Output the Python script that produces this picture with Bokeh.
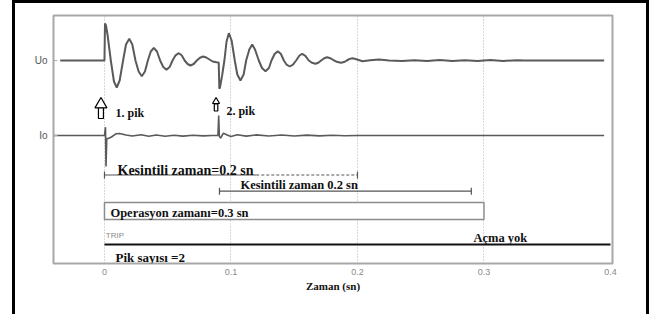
import numpy as np
from bokeh.plotting import figure
from bokeh.models import Range1d, FixedTicker
from bokeh.embed import file_html
from bokeh.resources import INLINE
from bokeh.core.properties import value

# ---------------- data ----------------
# Uo trace: time (s) and deflection from its baseline (px-like units, + = up)
uo_t = [-0.035, 0.0, 0.0004, 0.0012, 0.0025, 0.005, 0.0075, 0.0097, 0.012, 0.0147,
        0.017, 0.0196, 0.022, 0.0245, 0.027, 0.0295, 0.032, 0.0343, 0.0366, 0.039,
        0.0415, 0.044, 0.0465, 0.049, 0.0515, 0.0538, 0.0562, 0.0587, 0.061, 0.0634,
        0.0657, 0.068, 0.0705, 0.073, 0.0755, 0.078, 0.0805, 0.083, 0.0855, 0.0885,
        0.0903, 0.0908, 0.0913, 0.093, 0.0948, 0.0965, 0.0983, 0.1005, 0.103, 0.105,
        0.1075, 0.110, 0.112, 0.1145, 0.1168, 0.119, 0.122, 0.1245, 0.1273, 0.130,
        0.132, 0.1345, 0.137, 0.1395, 0.1418, 0.144, 0.1465, 0.149, 0.1515, 0.154,
        0.1563, 0.1588, 0.1615, 0.164, 0.1668, 0.169, 0.1713, 0.1737, 0.176, 0.1785,
        0.1815, 0.1843, 0.187, 0.1895, 0.1915, 0.1938, 0.196, 0.1985, 0.204, 0.21,
        0.217, 0.225, 0.235, 0.245, 0.255, 0.265, 0.275, 0.285, 0.295, 0.305,
        0.315, 0.326, 0.332, 0.395]
uo_v = [0, 0, 37, 35, 25, 0, -21, -27, -20, 0,
        16, 21.7, 16, 0, -11, -15.7, -11, 0, 9, 12.7,
        9, 0, -6.6, -9.3, -6.6, 0, 5.2, 7.3, 5.2, 0,
        -3.5, -5, -3.5, 0, 2.8, 4, 3, 1, -1, -1.7,
        -2, -28.3, -27, -15, 0, 19, 27.3, 20, 0, -14,
        -20, -14, 0, 11, 16, 11, 0, -7.5, -10.7, -7.5,
        0, 6.5, 9.3, 6.5, 0, -4.2, -6, -4.2, 0, 4.7,
        6.7, 4.7, 0, -2.3, -3.3, -2.3, 0, 2.3, 3.3, 2.3,
        0, -1.6, -2.3, -1.6, 0, 1.6, 2.3, 1.5, -0.7, 0.2,
        1, 0, -0.6, 0.3, -0.5, 0.4, -0.5, 0.3, -0.4, 0.4,
        -0.5, 0.3, 0, 0]

# Io trace
io_t = [-0.04, 0.0, 0.0008, 0.0012, 0.0018, 0.003, 0.0055, 0.009, 0.012, 0.017,
        0.022, 0.029, 0.035, 0.041, 0.048, 0.055, 0.062, 0.07, 0.078, 0.085,
        0.0897, 0.0903, 0.0908, 0.0918, 0.094, 0.097, 0.1, 0.105, 0.112, 0.12,
        0.13, 0.14, 0.15, 0.16, 0.17, 0.18, 0.19, 0.2, 0.395]
io_v = [0, 0, 8.3, -31, -3, -3, -1.5, 1.7, 2, 0.5,
        -0.5, 0.7, -0.8, 0.5, -0.7, 0.3, -0.6, 0.2, -0.4, 0,
        0, 20, -1, -2.5, 2.3, 0.5, -1, 0.7, -0.6, 0.6,
        -0.5, 0.5, -0.5, 0.4, -0.4, 0.3, -0.3, 0, 0]

x_ticks = [0, 0.1, 0.2, 0.3, 0.4]
x_tick_labels = ["0", "0.1", "0.2", "0.3", "0.4"]
grid_ticks = [0, 0.1, 0.2, 0.3]
channel_labels = ["Uo", "Io"]

peak_times = [0.0, 0.0905]
peak_labels = ["1. pik", "2. pik"]

interrupt1_start, interrupt1_end, interrupt1_solid_end = 0.0, 0.2, 0.12
interrupt1_label = "Kesintili zaman=0.2 sn"
interrupt2_start, interrupt2_end = 0.0909, 0.29
interrupt2_label = "Kesintili zaman 0.2 sn"
operation_start, operation_end = 0.0, 0.3
operation_label = "Operasyon zamanı=0.3 sn"
trip_start, trip_end = 0.0, 0.4
trip_label = "TRIP"
no_trip_label = "Açma yok"
peak_count_label = "Pik sayısı =2"
x_label = "Zaman (sn)"

# ---------------- layout (vertical rows, px-like units) ----------------
UO_Y, IO_Y = 203, 128
K1_Y, K2_Y = 88.5, 72.3
OP_BOTTOM, OP_TOP = 44, 61
TRIP_Y = 19
TXT = 3.5   # baseline correction for bold labels

SERIF = value("Liberation Serif")
SANS = value("Liberation Sans")

p = figure(width=637, height=314, output_backend="svg", toolbar_location=None,
           x_range=Range1d(-0.0403, 0.4016), y_range=Range1d(0, 248),
           min_border_left=38, min_border_right=40, min_border_top=12,
           min_border_bottom=54)
p.styles = {"margin-top": "0px", "margin-left": "12px",
            "border-top": "3px solid black", "border-left": "3px solid black",
            "border-right": "3px solid black"}
p.background_fill_color = "white"
p.border_fill_color = "white"
p.outline_line_color = "#a8a8a8"
p.outline_line_width = 2

# grid
p.ygrid.grid_line_color = None
p.xgrid.ticker = FixedTicker(ticks=grid_ticks)
p.xgrid.grid_line_color = "#b0b0b0"
p.xgrid.grid_line_dash = "1 2"
p.xgrid.grid_line_width = 1

# x axis
xa = p.xaxis[0]
xa.ticker = FixedTicker(ticks=x_ticks)
xa.major_label_overrides = {t: l for t, l in zip(x_ticks, x_tick_labels)}
xa.axis_line_color = None
xa.major_tick_line_color = None
xa.major_tick_in = 0
xa.major_tick_out = 0
xa.minor_tick_line_color = None
xa.minor_tick_out = 0
xa.major_label_text_color = "#8a8a8a"
xa.major_label_text_font = "Liberation Sans"
xa.major_label_text_font_size = "9px"
xa.major_label_standoff = 5
xa.axis_label = x_label
xa.axis_label_text_font = "Liberation Serif"
xa.axis_label_text_font_style = "bold"
xa.axis_label_text_font_size = "11px"
xa.axis_label_text_color = "#111111"
xa.axis_label_standoff = 2

# y axis
ya = p.yaxis[0]
ya.ticker = FixedTicker(ticks=[IO_Y, UO_Y])
ya.major_label_overrides = {UO_Y: channel_labels[0], IO_Y: channel_labels[1]}
ya.axis_line_color = None
ya.major_tick_in = 4
ya.major_tick_out = 0
ya.minor_tick_out = 0
ya.major_tick_line_color = "#b0b0b0"
ya.minor_tick_line_color = None
ya.major_label_text_color = "#555555"
ya.major_label_text_font = "Liberation Sans"
ya.major_label_text_font_size = "10px"
ya.major_label_standoff = 6

# signals
trace_color = "#5a5a5a"
p.line(uo_t, UO_Y + np.array(uo_v), line_color=trace_color, line_width=2)
p.line(io_t, IO_Y + np.array(io_v), line_color=trace_color, line_width=1.6)

# peak arrows (hollow) and labels
arrow_x = [peak_times[0] - 0.0028, peak_times[1] - 0.0023]
p.rect(x=arrow_x, y=[150.5, 156], width=[5, 3.5], height=[11, 7],
       width_units="screen", height_units="screen",
       fill_color="white", line_color="black", line_width=1.2)
p.scatter(x=arrow_x, y=[159.1, 162], size=[12, 7], marker="triangle",
          fill_color="white", line_color="black", line_width=1.2)
p.text(x=[peak_times[0] + 0.0087, peak_times[1] + 0.0059], y=[147 + TXT, 149 + TXT],
       text=peak_labels, text_font=SERIF, text_font_style="bold", text_font_size="12px",
       text_color="#111111", text_baseline="alphabetic")

# interruption 1
bar_color = "#555555"
p.segment(x0=[interrupt1_start], y0=[K1_Y], x1=[interrupt1_solid_end], y1=[K1_Y],
          line_color=bar_color, line_width=1.2)
p.segment(x0=[interrupt1_solid_end], y0=[K1_Y], x1=[interrupt1_end], y1=[K1_Y],
          line_color=bar_color, line_width=1.2, line_dash="3 2")
p.segment(x0=[interrupt1_start, interrupt1_end], y0=[K1_Y - 3.5] * 2,
          x1=[interrupt1_start, interrupt1_end], y1=[K1_Y + 3.5] * 2,
          line_color=bar_color, line_width=1.2)
p.text(x=[interrupt1_start + 0.0103], y=[K1_Y + 0.8 + TXT], text=[interrupt1_label],
       text_font=SERIF, text_font_style="bold", text_font_size="14px",
       text_color="#111111", text_baseline="alphabetic")

# interruption 2
p.segment(x0=[interrupt2_start], y0=[K2_Y], x1=[interrupt2_end], y1=[K2_Y],
          line_color=bar_color, line_width=1.2)
p.segment(x0=[interrupt2_start, interrupt2_end], y0=[K2_Y - 3.5] * 2,
          x1=[interrupt2_start, interrupt2_end], y1=[K2_Y + 3.5] * 2,
          line_color=bar_color, line_width=1.2)
p.text(x=[interrupt2_start + 0.0166], y=[K2_Y + 3 + TXT], text=[interrupt2_label],
       text_font=SERIF, text_font_style="bold", text_font_size="12.5px",
       text_color="#111111", text_baseline="alphabetic")

# operation time box
p.quad(left=[operation_start], right=[operation_end], bottom=[OP_BOTTOM], top=[OP_TOP],
       fill_color="white", line_color="#8c8c8c", line_width=1.5)
p.text(x=[operation_start + 0.0047], y=[OP_BOTTOM + 3.3 + TXT], text=[operation_label],
       text_font=SERIF, text_font_style="bold", text_font_size="12.5px",
       text_color="#111111", text_baseline="alphabetic")

# trip line
p.segment(x0=[trip_start], y0=[TRIP_Y], x1=[trip_end], y1=[TRIP_Y],
          line_color="#111111", line_width=2)
p.text(x=[trip_start + 0.001], y=[TRIP_Y + 9], text=[trip_label],
       text_font=SANS, text_font_size="8px", text_color="#8a8a8a",
       text_baseline="alphabetic")
p.text(x=[0.2917], y=[TRIP_Y + 3.3 + TXT], text=[no_trip_label],
       text_font=SERIF, text_font_style="bold", text_font_size="12.5px",
       text_color="#111111", text_baseline="alphabetic")
p.text(x=[trip_start + 0.0087], y=[3 + TXT], text=[peak_count_label],
       text_font=SERIF, text_font_style="bold", text_font_size="13px",
       text_color="#111111", text_baseline="alphabetic")

open("out.html", "w").write(file_html(p, INLINE))
